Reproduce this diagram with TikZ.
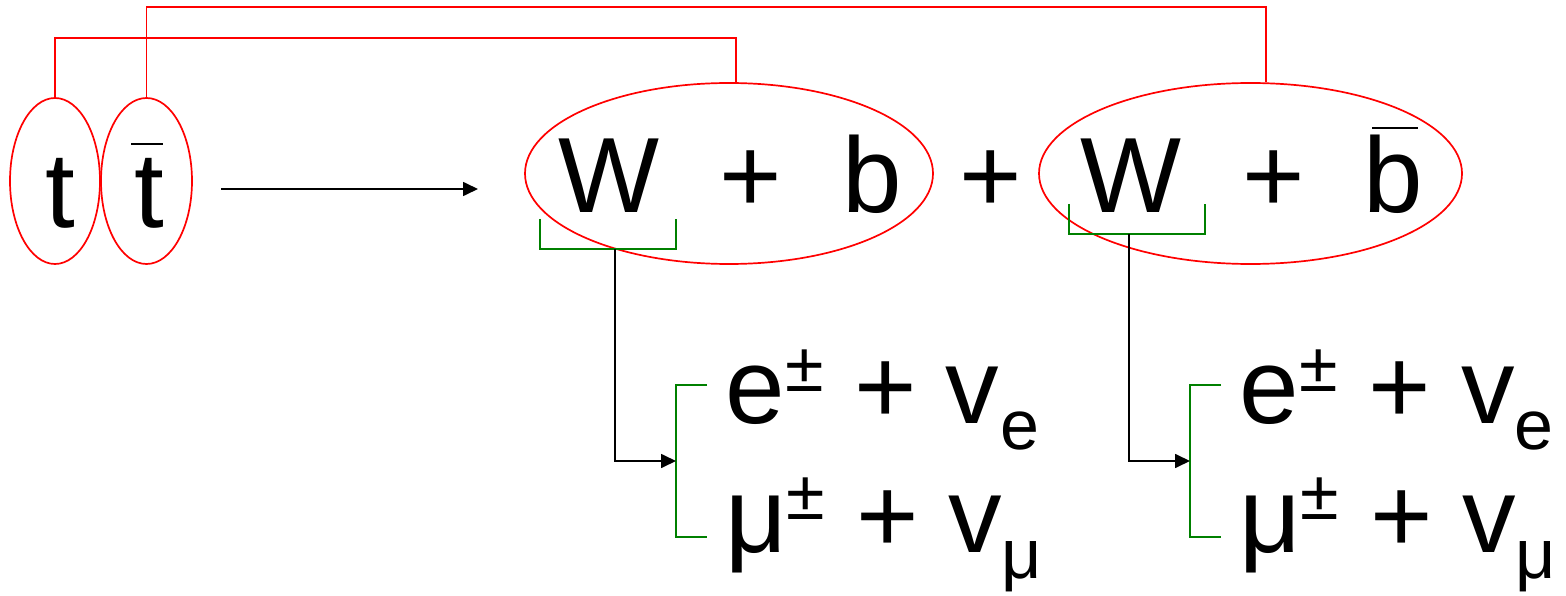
\documentclass[tikz,border=0pt]{standalone}
\usepackage{fontspec}
\setmainfont{Liberation Sans}
\usetikzlibrary{shapes.geometric,arrows.meta}
\definecolor{rred}{RGB}{255,0,0}
\definecolor{ggreen}{RGB}{0,128,0}
\begin{document}
\begin{tikzpicture}[x=1pt,y=-1pt,
  big/.style={font=\fontsize{107pt}{110pt}\selectfont, inner sep=0pt, anchor=base},
  small/.style={font=\fontsize{70pt}{72pt}\selectfont, inner sep=0pt, anchor=base},
  ring/.style={ellipse, draw=rred, line width=1.7pt, inner sep=0pt},
  redline/.style={draw=rred, line width=1.7pt},
  greenline/.style={draw=ggreen, line width=1.7pt},
  blackarrow/.style={draw=black, line width=1.7pt, -{Triangle[length=15pt,width=14pt]}}
]
\path[use as bounding box] (0,0) rectangle (1566,596);

% ellipses
\node[ring, minimum width=90pt, minimum height=166pt] (tE) at (55,181) {};
\node[ring, minimum width=91pt, minimum height=166pt] (tbE) at (146.5,181) {};
\node[ring, minimum width=408pt, minimum height=181pt] (wb1) at (729,173.5) {};
\node[ring, minimum width=423pt, minimum height=181pt] (wb2) at (1250.5,173.5) {};

% top texts
\node[big] (t) at (60,228) {t};
\node[big] (tb) at (149,228) {\makebox[0pt][l]{\hspace{-3pt}\rule[83pt]{32pt}{2pt}}t};
\node[big] (W1) at (609,213) {W};
\node[big] (p1) at (750.5,213) {+};
\node[big] (b1) at (872,213) {b};
\node[big] (p2) at (991,213) {+};
\node[big] (W2) at (1131,213) {W};
\node[big] (p3) at (1273.5,213) {+};
\node[big] (b2) at (1393.4,213) {\makebox[0pt][l]{\hspace{8.6pt}\rule[84pt]{46pt}{2pt}}b};

% red links
\coordinate (r1) at (0,38);
\coordinate (r2) at (0,7);
\draw[redline] (tE.north) -- (tE.north |- r1) -| ([xshift=7pt]wb1.north);
\draw[redline] (tbE.north) -- (tbE.north |- r2) -| ([xshift=15.5pt]wb2.north);

% main arrow
\coordinate (a1) at (221,189);
\coordinate (a2) at (478,189);
\draw[blackarrow] (a1) -- (a2);

% upper green brackets
\coordinate (g1a) at (540,219);
\coordinate (g1b) at (676,219);
\coordinate (g1m) at (615,249);
\draw[greenline] (g1a) |- (g1m) -| (g1b);
\coordinate (g2a) at (1069,204);
\coordinate (g2b) at (1205,204);
\coordinate (g2m) at (1129,234);
\draw[greenline] (g2a) |- (g2m) -| (g2b);

% lower green brackets
\coordinate (h1t) at (707,385);
\coordinate (h1b) at (707,537);
\coordinate (h1m) at (676,461);
\draw[greenline] (h1t) -- (676,385) -- (676,537) -- (h1b);
\coordinate (h2t) at (1221,385);
\coordinate (h2b) at (1221,537);
\coordinate (h2m) at (1190,461);
\draw[greenline] (h2t) -- (1190,385) -- (1190,537) -- (h2b);

% black arrows from W to decays
\draw[blackarrow] (g1m) |- (h1m);
\draw[blackarrow] (g2m) |- (h2m);

% decay products, left
\node[big] (e1) at (755,423) {e};
\node[small] (e1s) at (804.5,391) {±};
\node[big] (e1p) at (885.5,423) {+};
\node[big] (n1) at (972,423) {v};
\node[small] (n1s) at (1019.5,449) {e};
\node[big] (m1) at (756.5,552) {μ};
\node[small] (m1s) at (806,519) {±};
\node[big] (m1p) at (887.5,552) {+};
\node[big] (nm1) at (975,552) {v};
\node[small] (nm1s) at (1022,578) {μ};

% decay products, right
\node[big] (e2) at (1269,423) {e};
\node[small] (e2s) at (1318.5,391) {±};
\node[big] (e2p) at (1399.5,423) {+};
\node[big] (n2) at (1488,423) {v};
\node[small] (n2s) at (1534,449) {e};
\node[big] (m2) at (1270.5,552) {μ};
\node[small] (m2s) at (1320,519) {±};
\node[big] (m2p) at (1401.5,552) {+};
\node[big] (nm2) at (1489,552) {v};
\node[small] (nm2s) at (1536,578) {μ};
\end{tikzpicture}
\end{document}
